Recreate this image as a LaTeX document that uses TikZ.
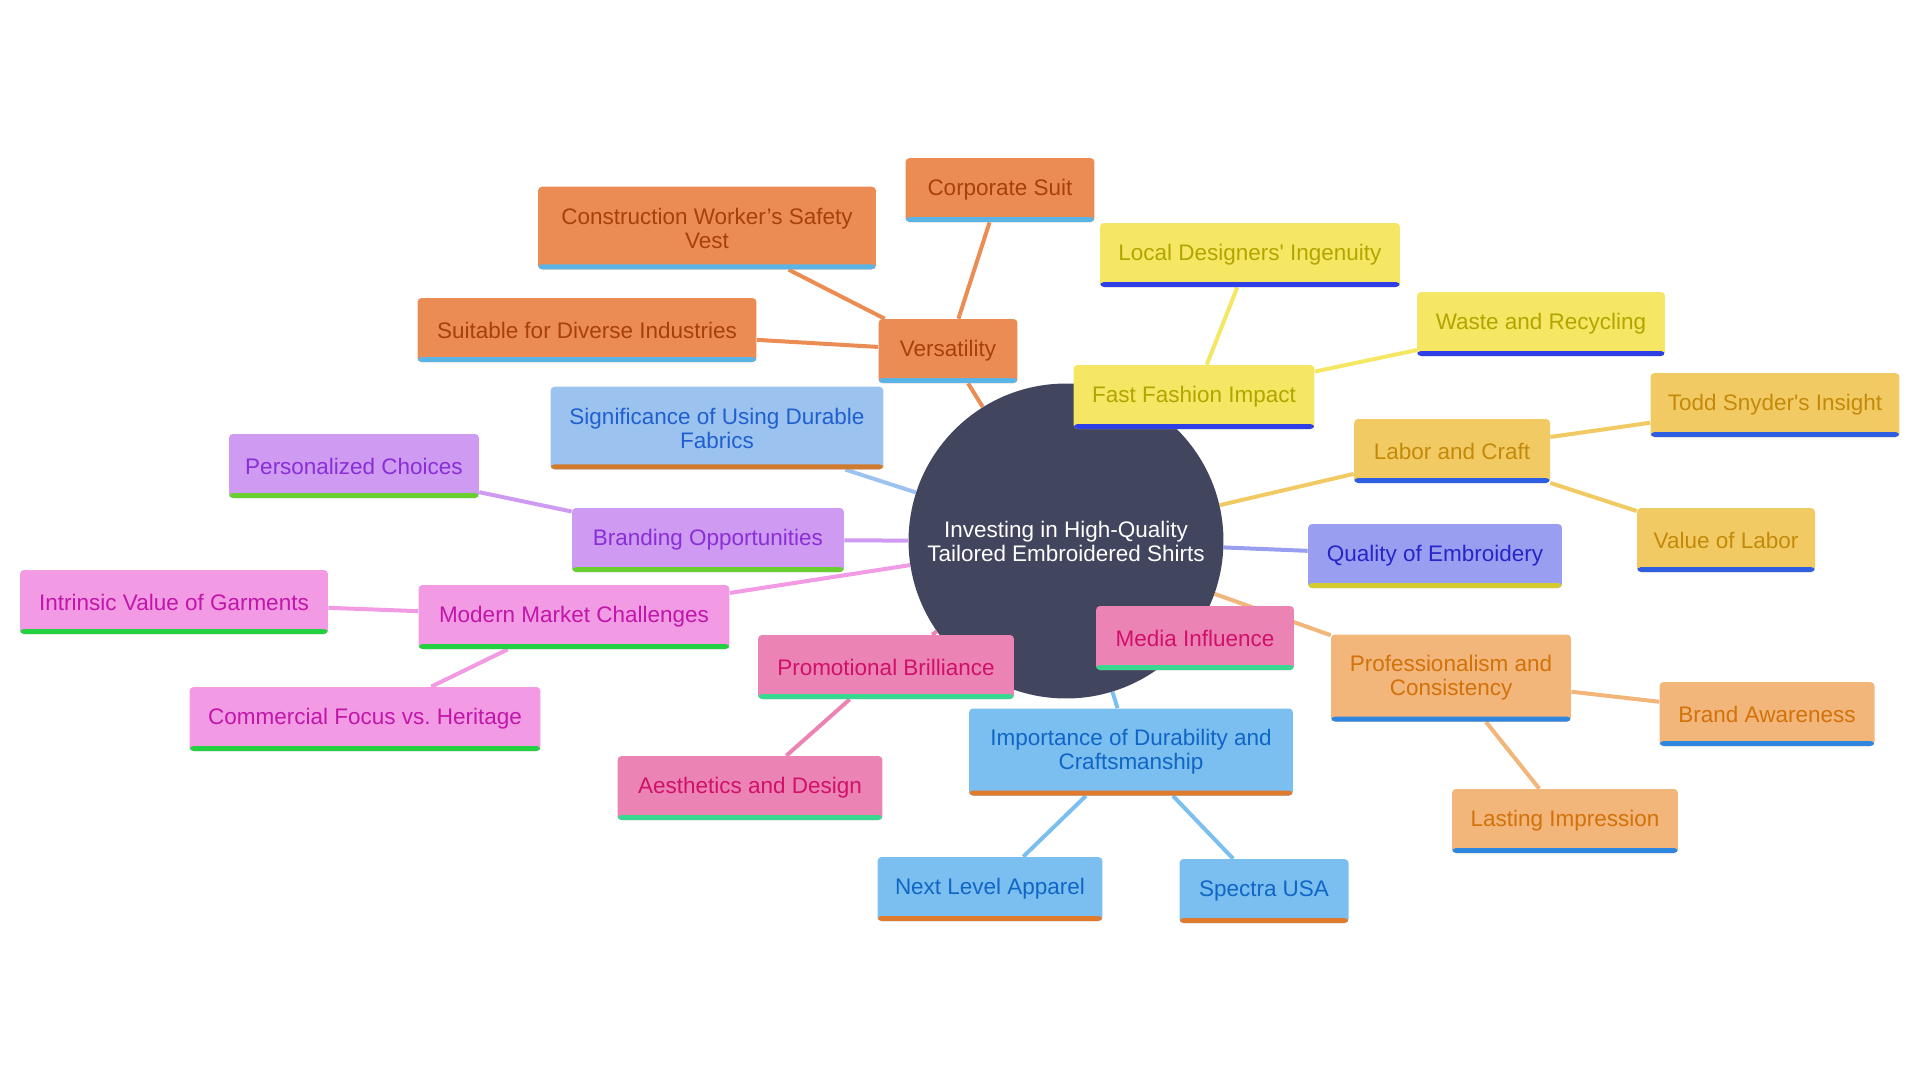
\documentclass[tikz,border=0pt]{standalone}
\usepackage{fontspec}
\setmainfont{Liberation Sans}
\usetikzlibrary{backgrounds}
\definecolor{RootFill}{HTML}{41455E}
\definecolor{VersaFill}{HTML}{EB8C55}
\definecolor{VersaText}{HTML}{A8400C}
\definecolor{VersaBar}{HTML}{5AB4E6}
\definecolor{FastFill}{HTML}{F5E664}
\definecolor{FastText}{HTML}{B3A500}
\definecolor{FastBar}{HTML}{2F3FE6}
\definecolor{LaborFill}{HTML}{F2CA64}
\definecolor{LaborText}{HTML}{C38A0A}
\definecolor{LaborBar}{HTML}{2F5FE0}
\definecolor{QualFill}{HTML}{9A9EF0}
\definecolor{QualText}{HTML}{2626C8}
\definecolor{QualBar}{HTML}{D6CB2E}
\definecolor{ProfFill}{HTML}{F2B57A}
\definecolor{ProfText}{HTML}{D2720A}
\definecolor{ProfBar}{HTML}{2E86DE}
\definecolor{PinkFill}{HTML}{EB84B4}
\definecolor{PinkText}{HTML}{D0106A}
\definecolor{PinkBar}{HTML}{38D890}
\definecolor{ImpFill}{HTML}{7BBEF0}
\definecolor{ImpText}{HTML}{1066C6}
\definecolor{ImpBar}{HTML}{E07B2E}
\definecolor{ModFill}{HTML}{F29AE3}
\definecolor{ModText}{HTML}{C016AA}
\definecolor{ModBar}{HTML}{22D040}
\definecolor{BrandFill}{HTML}{CF9AF2}
\definecolor{BrandText}{HTML}{8A2ED6}
\definecolor{BrandBar}{HTML}{6ACD30}
\definecolor{SigFill}{HTML}{9CC3EF}
\definecolor{SigText}{HTML}{1F5FCF}
\definecolor{SigBar}{HTML}{D07A2E}
\tikzset{
    leaf/.style n args={3}{rectangle, rounded corners=0.08cm,
        fill=#1, text=#2, align=center,
        inner xsep=0pt, inner ysep=0.42cm,
        minimum height=1.28cm,
        font=\fontsize{12.8}{13.7}\selectfont,
        path picture={\fill[#3] (path picture bounding box.south west)
            rectangle ([yshift=0.1cm]path picture bounding box.south east);}},
    versa/.style = {leaf={VersaFill}{VersaText}{VersaBar}},
    fast/.style = {leaf={FastFill}{FastText}{FastBar}},
    labor/.style = {leaf={LaborFill}{LaborText}{LaborBar}},
    qual/.style = {leaf={QualFill}{QualText}{QualBar}},
    prof/.style = {leaf={ProfFill}{ProfText}{ProfBar}},
    pink/.style = {leaf={PinkFill}{PinkText}{PinkBar}},
    imp/.style = {leaf={ImpFill}{ImpText}{ImpBar}},
    modm/.style = {leaf={ModFill}{ModText}{ModBar}},
    brand/.style = {leaf={BrandFill}{BrandText}{BrandBar}},
    sig/.style = {leaf={SigFill}{SigText}{SigBar}},
    root/.style = {circle, fill=RootFill, text=white, align=center,
        minimum size=6.3cm, inner sep=0pt,
        font=\fontsize{12.8}{13.7}\selectfont},
    link/.style = {draw=#1, line width=0.08cm}
}

\begin{document}
\begin{tikzpicture}[x=0.02cm,y=-0.02cm]
    \useasboundingbox (0,0) rectangle (1920,1080);
    \node [root] (center) at (1066,541) {Investing in High-Quality\\Tailored Embroidered Shirts};
    % versatility branch
    \node [versa, minimum width=2.78cm] (versa) at (948,351) {Versatility};
    \node [versa, minimum width=3.78cm] (corpsuit) at (1000,190) {Corporate Suit};
    \node [versa, minimum width=6.76cm] (vest) at (707,228) {Construction Worker’s Safety\\Vest};
    \node [versa, minimum width=6.78cm] (industries) at (587,330) {Suitable for Diverse Industries};
    % fast fashion branch
    \node [fast, minimum width=4.82cm] (fastfash) at (1194,397) {Fast Fashion Impact};
    \node [fast, minimum width=6.00cm] (localdes) at (1250,255) {Local Designers\textquotesingle\ Ingenuity};
    \node [fast, minimum width=4.96cm] (waste) at (1541,324) {Waste and Recycling};
    % labor branch
    \node [labor, minimum width=3.92cm] (labor) at (1452,451) {Labor and Craft};
    \node [labor, minimum width=4.98cm] (todd) at (1775,405) {Todd Snyder\textquotesingle s Insight};
    \node [labor, minimum width=3.56cm] (valuelab) at (1726,540) {Value of Labor};
    \node [qual, minimum width=5.08cm] (quality) at (1435,556) {Quality of Embroidery};
    % professionalism branch
    \node [prof, minimum width=4.80cm] (profess) at (1451,678) {Professionalism and\\Consistency};
    \node [prof, minimum width=4.30cm] (awareness) at (1767,714) {Brand Awareness};
    \node [prof, minimum width=4.52cm] (lasting) at (1565,821) {Lasting Impression};
    % durability branch
    \node [imp, minimum width=6.48cm] (importance) at (1131,752) {Importance of Durability and\\Craftsmanship};
    \node [imp, minimum width=4.50cm] (nextlevel) at (990,889) {Next Level Apparel};
    \node [imp, minimum width=3.38cm] (spectra) at (1264,891) {Spectra USA};
    % promotion branch
    \node [pink, minimum width=5.12cm] (promo) at (886,667) {Promotional Brilliance};
    \node [pink, minimum width=5.30cm] (aesthetics) at (750,788) {Aesthetics and Design};
    \node [pink, minimum width=3.96cm] (media) at (1195,638) {Media Influence};
    % market branch
    \node [modm, minimum width=6.22cm] (market) at (574,617) {Modern Market Challenges};
    \node [modm, minimum width=6.16cm] (intrinsic) at (174,602) {Intrinsic Value of Garments};
    \node [modm, minimum width=7.02cm] (heritage) at (365,719) {Commercial Focus vs.\ Heritage};
    % branding branch
    \node [brand, minimum width=5.44cm] (branding) at (708,540) {Branding Opportunities};
    \node [brand, minimum width=5.00cm] (personal) at (354,466) {Personalized Choices};
    \node [sig, minimum width=6.66cm] (durfab) at (717,428) {Significance of Using Durable\\Fabrics};

    \begin{scope}[on background layer]
        \draw [link=VersaFill] (center) -- (versa);
        \draw [link=VersaFill] (versa) -- (corpsuit);
        \draw [link=VersaFill] (versa) -- (vest);
        \draw [link=VersaFill] (versa) -- (industries);
        \draw [link=FastFill] (center) -- (fastfash);
        \draw [link=FastFill] (fastfash) -- (localdes);
        \draw [link=FastFill] (fastfash) -- (waste);
        \draw [link=LaborFill] (center) -- (labor);
        \draw [link=LaborFill] (labor) -- (todd);
        \draw [link=LaborFill] (labor) -- (valuelab);
        \draw [link=QualFill] (center) -- (quality);
        \draw [link=ProfFill] (center) -- (profess);
        \draw [link=ProfFill] (profess) -- (awareness);
        \draw [link=ProfFill] (profess) -- (lasting);
        \draw [link=ImpFill] (center) -- (importance);
        \draw [link=ImpFill] (importance) -- (nextlevel);
        \draw [link=ImpFill] (importance) -- (spectra);
        \draw [link=PinkFill] (center) -- (promo);
        \draw [link=PinkFill] (promo) -- (aesthetics);
        \draw [link=PinkFill] (center) -- (media);
        \draw [link=ModFill] (center) -- (market);
        \draw [link=ModFill] (market) -- (intrinsic);
        \draw [link=ModFill] (market) -- (heritage);
        \draw [link=BrandFill] (center) -- (branding);
        \draw [link=BrandFill] (branding) -- (personal);
        \draw [link=SigFill] (center) -- (durfab);
    \end{scope}
\end{tikzpicture}
\end{document}
